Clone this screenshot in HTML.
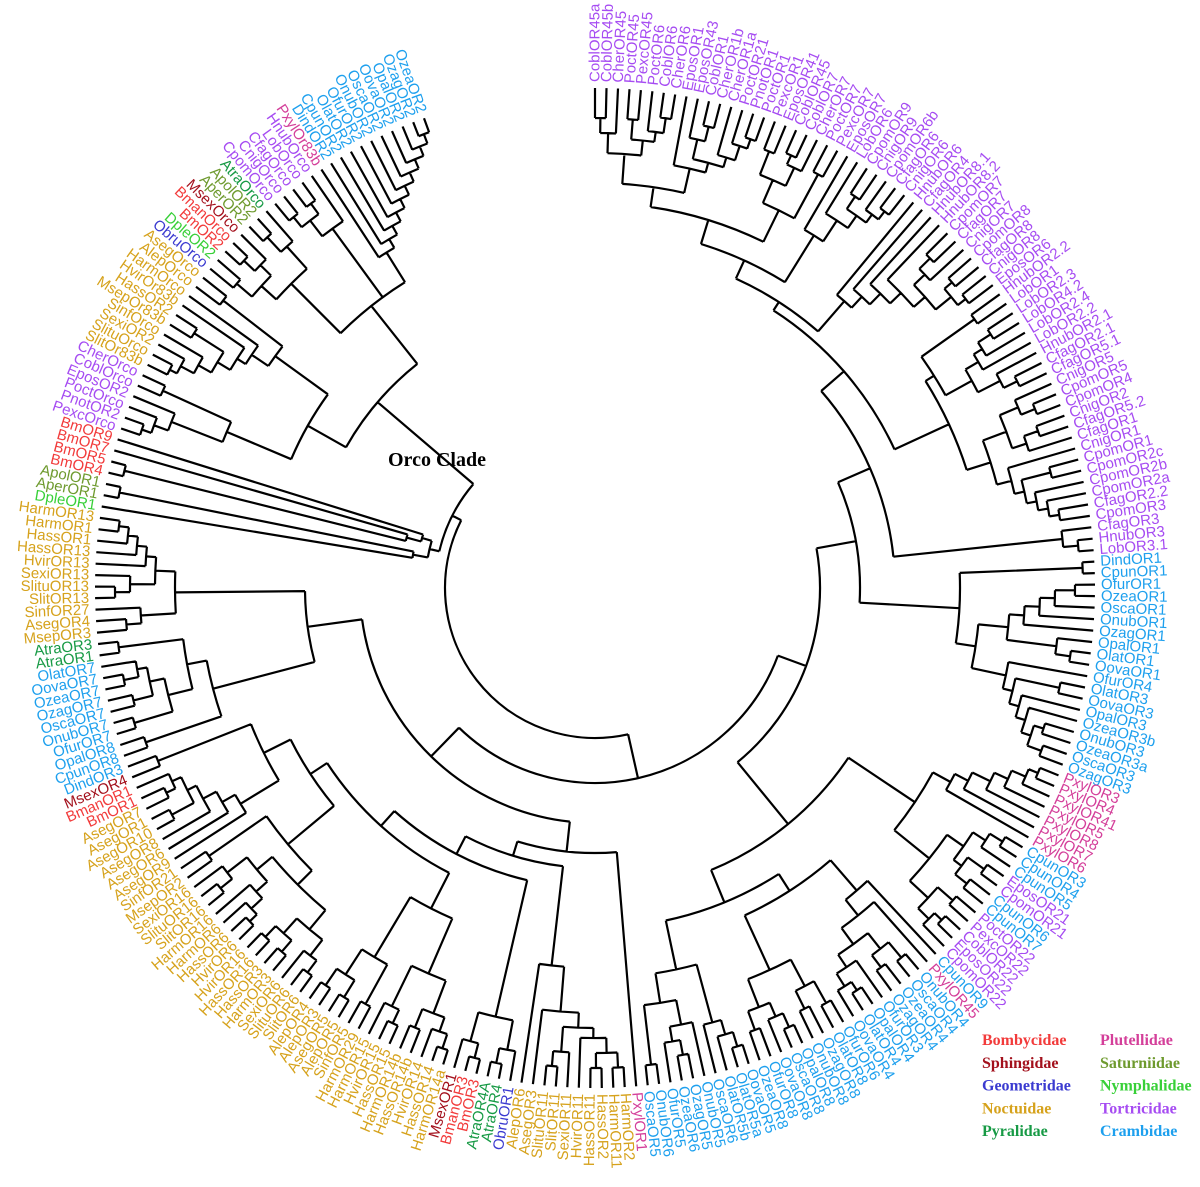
<!DOCTYPE html>
<html><head><meta charset="utf-8"><style>
html,body{margin:0;padding:0;background:#fff;}
svg{display:block;}
.lab{font-family:"Liberation Sans",Arial,sans-serif;font-size:15px;}
.leg{font-family:"Liberation Serif",serif;font-weight:bold;font-size:16px;}
</style></head><body>
<svg id="chart" width="1200" height="1187" viewBox="0 0 1200 1187" xmlns="http://www.w3.org/2000/svg">
<g id="branches" fill="none" stroke="#000" stroke-width="2.2"></g>
<g id="labels"></g>
<text x="388" y="466" style="font-family:'Liberation Serif',serif;font-weight:bold;font-size:20px;">Orco Clade</text>
<g id="legend"></g>
</svg>
<script>
// ---- data ----
const familyNames = ["Bombycidae","Sphingidae","Geometridae","Noctuidae","Pyralidae","Plutellidae","Saturniidae","Nymphalidae","Tortricidae","Crambidae"];
const familyColors = ["#f23b3b","#a3101c","#3a3ad0","#d6a21c","#179a45","#d43f9a","#6e9a2e","#38d038","#a64cf2","#1ea0ee"];
const speciesPrefixes = ["Bman","Bm","Msex","Obru","Harm","Hass","Hvir","Sexi","Slitu","Slit","Sinf","Msep","Aseg","Alep","Atra","Pxyl","Aper","Apol","Dple","Cobl","Cher","Poct","Pexc","Pnot","Epos","Lob","Cpom","Cnig","Cfag","Hnub","Dind","Cpun","O"];
const speciesFamily = [0,0,1,2,3,3,3,3,3,3,3,3,3,3,4,5,6,6,7,8,8,8,8,8,8,8,8,8,8,8,9,9,9];

const T1 = "((((CoblOR45a,CoblOR45b)470,CherOR45)455,((PoctOR45,PexcOR45)470,(PoctOR6,(CoblOR6,CherOR6)475)460)450)435,(EposOR1,((EposOR43,(CoblOR1,CherOR1b)475)460,(CherOR1a,(PoctOR21,(PnotOR1,PoctOR1)475)465)450)440)430)405";
const T2 = "(((PexcOR1,EposOR41)470,((CoblOR45,CoblOR7)475,CherOR7)465)445,(PoctOR7,PexcOR7)470)420";
const T3 = "(EposOR7,(LobOR6,((CpomOR9,CnigOR9)470,(CpomOR6b,(CfagOR6,CnigOR6)475)465)455)440)415";
const T4 = "(HnubOR6,(CfagOR4,(HnubOR8.1,(HnubOR8.2,(((CpomOR7,CfagOR7)470,CnigOR7)455,((CpomOR8,CfagOR8)470,(CnigOR8,EposOR6)470)460)440)425)410)395)380";
const T5 = "(((HnubOR2.2,LobOR1)465,((((LobOR2.3,LobOR4.2)470,LobOR2.4)455,LobOR2.2)445,(HnubOR2.1,(CfagOR2.1,CfagOR5.1)470)455)430)400,(((CnigOR5,(CpomOR5,CpomOR4)475)460,((CnigOR2,CfagOR5.2)470,CfagOR1)455)440,(CnigOR1,((CpomOR1,CpomOR2c)470,(CpomOR2b,(CpomOR2a,(CfagOR2.2,CpomOR3)470)460)450)440)430)415)390";
const TortAll = "(((((" + T1 + "," + T2 + ")385," + T3 + ")360," + T4 + ")340," + T5 + ")330,(CfagOR3,(HnubOR3,LobOR3.1)485)470)300";
const Cramb1 = "((DindOR1,CpunOR1)488,((((((OfurOR1,OzeaOR1)480,OscaOR1)460,OnubOR1)445,OzagOR1)430,(OpalOR1,(OlatOR1,OovaOR1)480)465)415,(OfurOR4,((OlatOR3,OovaOR3)475,(OpalOR3,(OzeaOR3b,((OnubOR3,OzeaOR3a)470,(OscaOR3,OzagOR3)475)460)450)440)430)420)385)365";
const Pxyl = "((((((PxylOR3,PxylOR4)480,PxylOR41)470,PxylOR5)455,PxylOR8)440,PxylOR7)420,PxylOR6)405";
const CpunG = "((((CpunOR3,CpunOR4)480,CpunOR5)465,((EposOR21,CpomOR21)480,(CpunOR6,CpunOR7)475)460)450,((PoctOR22,PexcOR22)475,((CoblOR22,EposOR22)480,CpomOR22)470)455)430";
const OR4grp = "(CpunOR9,(PxylOR45,(((OnubOR4,OscaOR4)480,(OzeaOR4,OzagOR4)475)460,(OfurOR3,((OpalOR4,OlatOR4)480,OovaOR4)470)455)440)420)400";
const OR8grp = "(((OfurOR6,OlatOR8)475,(OzagOR8,OnubOR8)470)450,(((OpalOR8,OscaOR8)480,OovaOR8)465,(OfurOR8,OzeaOR8)470)450)420";
const OR56 = "((((OovaOR5,OlatOR5a)480,OlatOR5b)465,OscaOR6)450,((OnubOR5,((OzagOR5,OzeaOR6)475,OfurOR5)460)445,(OnubOR6,OscaOR5)480)420)390";
const BR = "((" + Pxyl + "," + CpunG + ")385,((" + OR4grp + "," + OR8grp + ")360," + OR56 + ")340)305";
const OR11 = "((((((HarmOR2,HarmOR11)480,(HassOR2,HassOR11)480)465,HvirOR11)450,(SexiOR11,(SlitOR11,SlituOR11)480)465)440,AsegOR3)425,AlepOR6)380";
const ObruG = "((ObruOR1,(AtraOR4,AtraOR4A)485)470,((BmOR3,BmanOR3)485,MsexOR1)470)440";
const OR14 = "((((HarmOR14a,HassOR14)485,HvirOR14)470,(HassOR14b,HarmOR14b)475)455,((HassOR15,HvirOR15)480,HarmOR15)465)420";
const AlepG = "((HarmOR29,SinfOR5)475,((AlepOR5,AsegOR5)480,(AlepOR3,AlepOR4)480)460)430";
const OR16 = "(((((SlitOR6,SlituOR6)480,SexiOR6)465,((HarmOR3,HassOR3)480,(HassOR16,HvirOR16)480)465)445,((((HvirOR6,HassOR6)480,HarmOR6)470,HarmOR16)455,((SlitOR16,SlituOR16)480,SexiOR16)465)440)420,(MsepOR2,SinfOR21)470)400";
const AsegG = "(AsegOR9,(AsegOR6,(AsegOR8,((AsegOR10,AsegOR1)480,((AsegOR7,BmOR1)475,BmanOR1)465)455)445)430)415";
const Bot = "(PxylOR1,(" + OR11 + ",(" + ObruG + ",((" + OR14 + "," + AlepG + ")360,(" + OR16 + ",(" + AsegG + ",(MsexOR4,DindOR3)470)370)340)320)300)280)265";
const OR7G = "((CpunOR8,OpalOR8)475,(((OfurOR7,OnubOR7)480,((OscaOR7,OzagOR7)475,((OzeaOR7,OovaOR7)480,OlatOR7)465)455)440,(AtraOR1,AtraOR3)480)415)395";
const OR13G = "(((MsepOR3,AsegOR4)470,SinfOR27)455,(((SlitOR13,SlituOR13)480,SexiOR13)465,(HvirOR13,(HassOR13,(HassOR1,(HarmOR1,HarmOR13)480)470)460)450)440)420";
const OrcoT = "((((PexcOrco,PnotOR2)480,PoctOrco)470,EposOR2)455,(CoblOrco,CherOrco)475)400";
const OrcoN = "(((((((SlitOr83b,SlituOrco)478,SexiOR2)470,SinfOrco)455,(MsepOr83b,HassOR2)475)440,HvirOr83b)425,HarmOrco)415,(AlepOrco,AsegOrco)470)395";
const OrcoTop = "((((ObruOrco,DpleOR2)470,((BmOR2,BmanOrco)480,MsexOrco)465)450,((AperOR2,ApolOR2)480,AtraOrco)460)430,(((CpomOrco,CnigOrco)478,(CfagOrco,LobOrco)478)465,HnubOrco)445,(PxylOr83b,(DindOR2,(CpunOR2,(OlatOR2,(OfurOR2,(OnubOR2,(OscaOR2,(OovaOR2,(OpalOR2,(OzagOR2,OzeaOR2)485)475)465)455)445)435)425)415)405)395)360";
const Orco = "((" + OrcoT + "," + OrcoN + ")330," + OrcoTop + ")286";
const LT = "(((DpleOR1,(AperOR1,ApolOR1)485)185,(((BmOR4,BmOR5)485,BmOR7)195,BmOR9)180)170," + Orco + ")160";
const treeNewick = "((((" + TortAll + "," + Cramb1 + ")265," + BR + ")225,(" + Bot + ",(" + OR7G + "," + OR13G + ")290)235)195," + LT + ")150";

// ---- geometry ----
const CX = 595, CY = 588, TIP_R = 500, LABEL_R = 506;
const START_ANGLE = -90, SPAN = 340;

function parse(s){
  let i = 0;
  function node(){
    if (s[i] === '('){
      i++;
      const ch = [node()];
      while (s[i] === ','){ i++; ch.push(node()); }
      i++;
      let num = '';
      while (i < s.length && /[0-9]/.test(s[i])) num += s[i++];
      return {ch: ch, r: num === '' ? NaN : +num};
    }
    let name = '';
    while (i < s.length && !/[,()]/.test(s[i])) name += s[i++];
    return {name: name.trim(), r: TIP_R};
  }
  return node();
}
const tree = parse(treeNewick);
const leaves = [];
(function collect(n){ if (n.ch) n.ch.forEach(collect); else leaves.push(n); })(tree);
const step = SPAN / (leaves.length - 1);
leaves.forEach((l, k) => { l.a = START_ANGLE + k * step; });
(function ang(n){
  if (!n.ch) return n.a;
  n.ch.forEach(ang);
  n.a = (n.ch[0].a + n.ch[n.ch.length - 1].a) / 2;
  if (isNaN(n.r)) n.r = Math.min.apply(null, n.ch.map(c => c.r)) - 15;
  return n.a;
})(tree);

function pt(r, a){ const t = a * Math.PI / 180; return [CX + r * Math.cos(t), CY + r * Math.sin(t)]; }
function familyOf(name){
  for (let k = 0; k < speciesPrefixes.length; k++) if (name.startsWith(speciesPrefixes[k])) return speciesFamily[k];
  return 9;
}

const NS = "http://www.w3.org/2000/svg";
const gB = document.getElementById('branches');
const gL = document.getElementById('labels');
let d = '';
(function draw(n){
  if (!n.ch) return;
  const a0 = n.ch[0].a, a1 = n.ch[n.ch.length - 1].a;
  const p0 = pt(n.r, a0), p1 = pt(n.r, a1);
  const large = (a1 - a0) > 180 ? 1 : 0;
  d += 'M' + p0[0].toFixed(1) + ' ' + p0[1].toFixed(1) + 'A' + n.r + ' ' + n.r + ' 0 ' + large + ' 1 ' + p1[0].toFixed(1) + ' ' + p1[1].toFixed(1);
  n.ch.forEach(c => {
    const q0 = pt(n.r, c.a), q1 = pt(c.r, c.a);
    d += 'M' + q0[0].toFixed(1) + ' ' + q0[1].toFixed(1) + 'L' + q1[0].toFixed(1) + ' ' + q1[1].toFixed(1);
    draw(c);
  });
})(tree);
const path = document.createElementNS(NS, 'path');
path.setAttribute('d', d);


gB.appendChild(path);

leaves.forEach(l => {
  const t = document.createElementNS(NS, 'text');
  const p = pt(LABEL_R, l.a);
  let a = ((l.a % 360) + 360) % 360;
  const flip = a > 90 && a < 270;
  t.setAttribute('class', 'lab');
  t.setAttribute('x', p[0].toFixed(1));
  t.setAttribute('y', p[1].toFixed(1));
  t.setAttribute('dominant-baseline', 'central');
  t.setAttribute('text-anchor', flip ? 'end' : 'start');
  t.setAttribute('transform', 'rotate(' + (flip ? l.a + 180 : l.a).toFixed(2) + ' ' + p[0].toFixed(1) + ' ' + p[1].toFixed(1) + ')');
  t.setAttribute('fill', familyColors[familyOf(l.name)]);
  
  
  t.textContent = l.name;
  gL.appendChild(t);
});

const gLeg = document.getElementById('legend');
familyNames.forEach((f, k) => {
  const t = document.createElementNS(NS, 'text');
  const col = k < 5 ? 0 : 1, row = k % 5;
  t.setAttribute('class', 'leg');
  t.setAttribute('x', col ? 1100 : 982);
  t.setAttribute('y', 1045 + row * 22.8);
  t.setAttribute('fill', familyColors[k]);
  
  
  t.textContent = f;
  gLeg.appendChild(t);
});
</script>
</body></html>
